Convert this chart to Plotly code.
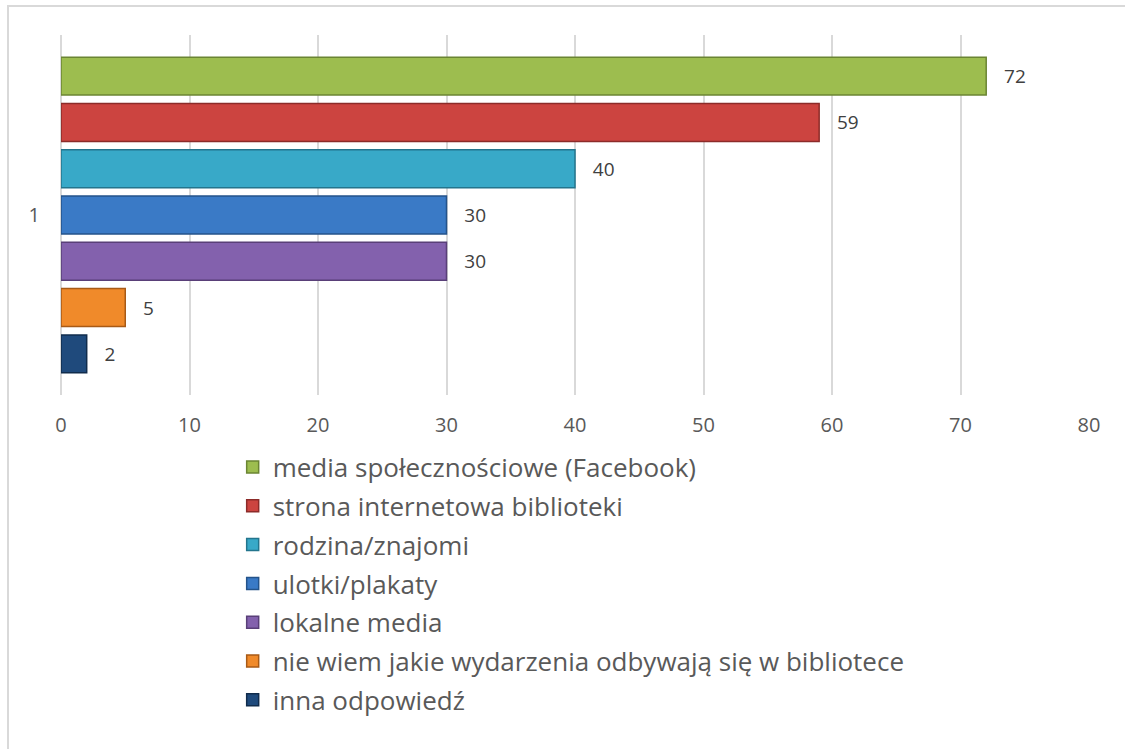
import plotly.graph_objects as go

# survey answers, top bar first
answers = [
    "media społecznościowe (Facebook)",
    "strona internetowa biblioteki",
    "rodzina/znajomi",
    "ulotki/plakaty",
    "lokalne media",
    "nie wiem jakie wydarzenia odbywają się w bibliotece",
    "inna odpowiedź",
]
counts = [72, 59, 40, 30, 30, 5, 2]
category = ["1"]
x_ticks = [0, 10, 20, 30, 40, 50, 60, 70, 80]

fills = ["#9dbd4f", "#cc4440", "#38a9c8", "#3a7ac6", "#8361ad", "#f08a2a", "#1f4a7c"]
edges = ["#6b8533", "#8c2b29", "#23758d", "#24538a", "#593f78", "#a85a16", "#112c4c"]

fig = go.Figure()

# plotly draws grouped bars bottom-up, so add them in reverse;
# legendrank keeps the legend in the original order
for i in reversed(range(len(answers))):
    fig.add_trace(go.Bar(
        y=category,
        x=[counts[i]],
        name=answers[i],
        orientation="h",
        legendgroup=answers[i],
        legendrank=i + 1,
        marker=dict(color=fills[i], line=dict(color=edges[i], width=1.5)),
        text=[counts[i]],
        texttemplate="   %{x}",
        textposition="outside",
        textfont=dict(size=19, color="#404040"),
        cliponaxis=False,
    ))

W, H = 1125, 749
L, T, PW, PH = 61, 35, 1028, 360

fig.update_layout(
    width=W,
    height=H,
    barmode="group",
    bargap=0.1,
    bargroupgap=0.18,
    paper_bgcolor="white",
    plot_bgcolor="white",
    font=dict(family="'Open Sans', sans-serif", color="#595959"),
    margin=dict(l=L, r=W - L - PW, t=T, b=H - T - PH, autoexpand=False),
    showlegend=True,
    legend=dict(
        traceorder="grouped",
        orientation="v",
        x=0.167,
        xanchor="left",
        y=-0.135,
        yanchor="top",
        font=dict(size=26, color="#595959"),
        tracegroupgap=2,
        itemwidth=30,
    ),
    xaxis=dict(
        range=[0, 80],
        tickvals=x_ticks,
        showgrid=True,
        gridcolor="#d9d9d9",
        gridwidth=2,
        zeroline=True,
        zerolinecolor="#d9d9d9",
        zerolinewidth=2,
        showline=False,
        ticks="",
        ticklabelstandoff=16,
        tickfont=dict(size=20, color="#595959"),
    ),
    yaxis=dict(
        showgrid=False,
        showline=False,
        ticks="",
        ticklabelstandoff=20,
        tickfont=dict(size=20, color="#595959"),
    ),
    # light frame around the chart area
    shapes=[dict(
        type="rect", xref="paper", yref="paper",
        x0=-53 / PW, x1=1075 / PW, y0=-370 / PH, y1=1 + 29 / PH,
        line=dict(color="#d9d9d9", width=2), fillcolor="rgba(0,0,0,0)",
        layer="below",
    )],
)

fig.write_html(
    "out.html",
    config={"displayModeBar": False},
    post_script="document.body.style.margin='0';",
)
